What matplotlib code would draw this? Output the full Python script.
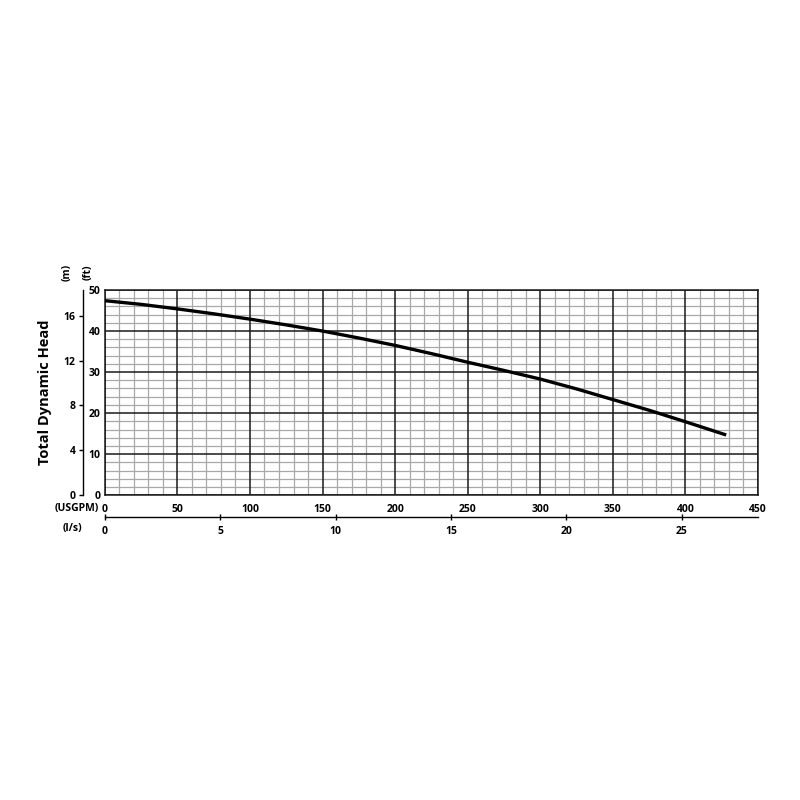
import matplotlib
matplotlib.use("Agg")
import matplotlib.pyplot as plt
from matplotlib.ticker import MultipleLocator

# pump curve (flow in USGPM, head in ft)
flow_gpm = [0, 25, 50, 75, 100, 125, 150, 175, 200, 225, 250, 275, 300, 325, 350, 375, 400, 427]
head_ft = [47.4, 46.5, 45.4, 44.2, 42.9, 41.5, 40.0, 38.3, 36.5, 34.5, 32.4, 30.4, 28.3, 25.9, 23.3, 20.7, 17.9, 14.8]

m_ticks = [0, 4, 8, 12, 16]
ls_ticks = [0, 5, 10, 15, 20, 25]
M_TOP = 18.3      # the metre scale on the sheet tops out here
GPM_PER_LS = 15.9

plt.rcParams['font.family'] = ['Open Sans', 'DejaVu Sans']
plt.rcParams['font.weight'] = 'bold'

fig = plt.figure(figsize=(8, 8), dpi=100)
ax = fig.add_axes([0.131, 0.381, 0.8165, 0.2565])

ax.plot(flow_gpm, head_ft, color='black', lw=2.4, zorder=5)

ax.set_xlim(0, 450)
ax.set_ylim(0, 50)
ax.xaxis.set_major_locator(MultipleLocator(50))
ax.xaxis.set_minor_locator(MultipleLocator(10))
ax.yaxis.set_major_locator(MultipleLocator(10))
ax.yaxis.set_minor_locator(MultipleLocator(2))
ax.grid(which='minor', color='#a8a8a8', lw=0.9)
ax.set_axisbelow(True)
# heavy lines on top of the fine grid
for xv in ax.get_xticks():
    ax.axvline(xv, color='#1a1a1a', lw=1.1, zorder=1)
for yv in ax.get_yticks():
    ax.axhline(yv, color='#1a1a1a', lw=1.1, zorder=1)
ax.tick_params(which='both', length=0, labelsize=7.5)
ax.tick_params(axis='x', pad=6)
ax.tick_params(axis='y', pad=3)
for s in ax.spines.values():
    s.set_color('#1a1a1a')
    s.set_linewidth(1.1)
for lab in ax.get_xticklabels() + ax.get_yticklabels():
    lab.set_fontweight('bold')

# metre scale on the far left
sec_m = ax.secondary_yaxis(-0.034, functions=(lambda f: f * M_TOP / 50,
                                              lambda m: m * 50 / M_TOP))
sec_m.set_yticks(m_ticks)
sec_m.tick_params(length=3, width=1, labelsize=7.5, pad=2)
sec_m.spines['left'].set_linewidth(1.0)
for lab in sec_m.get_yticklabels():
    lab.set_fontweight('bold')

# litres per second scale under the plot
sec_ls = ax.secondary_xaxis(-0.107, functions=(lambda g: g / GPM_PER_LS,
                                               lambda l: l * GPM_PER_LS))
sec_ls.set_xticks(ls_ticks)
sec_ls.tick_params(direction='inout', length=5, width=1, labelsize=7.5, pad=4)
sec_ls.spines['bottom'].set_linewidth(1.0)
for lab in sec_ls.get_xticklabels():
    lab.set_fontweight('bold')

fig.text(0.096, 0.364, '(USGPM)', ha='center', va='center', fontsize=7.5, fontweight='bold')
fig.text(0.091, 0.340, '(l/s)', ha='center', va='center', fontsize=7.5, fontweight='bold')
fig.text(0.084, 0.660, '(m)', ha='center', va='center', rotation=90, fontsize=7.5, fontweight='bold')
fig.text(0.110, 0.660, '(ft)', ha='center', va='center', rotation=90, fontsize=7.5, fontweight='bold')
fig.text(0.056, 0.510, 'Total Dynamic Head', ha='center', va='center', rotation=90,
         fontsize=10.5, fontweight='bold')

fig.savefig('out.png', dpi=100, facecolor='white')
